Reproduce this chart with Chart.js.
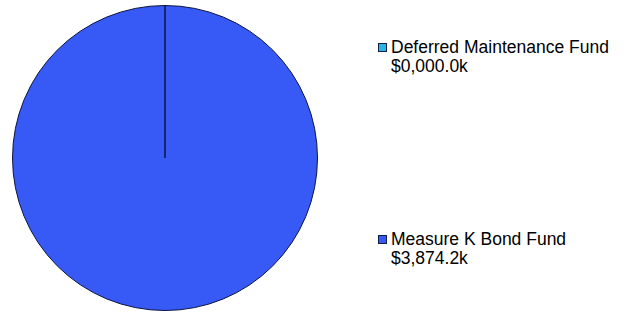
<!DOCTYPE html>
<html>
<head>
<meta charset="utf-8">
<script src="https://cdn.jsdelivr.net/npm/chart.js@4"></script>
<style>
  body { margin: 0; background: #fff; width: 624px; height: 313px; overflow: hidden; position: relative; }
  #wrap { position: absolute; left: 0; top: 0; width: 330px; height: 313px; }
  .item { position: absolute; left: 378px; font-family: "Liberation Sans", Arial, sans-serif; font-size: 17.5px; line-height: 19px; color: #000; }
  .box { position: absolute; left: 0; top: 5px; width: 7px; height: 7px; border: 1px solid #102040; }
  .txt { position: absolute; left: 13px; top: 0; white-space: nowrap; }
</style>
</head>
<body>
<div id="wrap"><canvas id="myChart"></canvas></div>
<div id="legend"></div>
<script>
const labels = ["Deferred Maintenance Fund", "Measure K Bond Fund"];
const amounts = ["$0,000.0k", "$3,874.2k"];
const values = [0, 3874.2];
const colors = ["#27b4e6", "#3759f6"];
const legendTop = [38, 230];

// legend on the right, two lines per item
const legend = document.getElementById('legend');
labels.forEach((lab, i) => {
  const d = document.createElement('div');
  d.className = 'item';
  d.style.top = legendTop[i] + 'px';
  d.innerHTML = `<div class="box" style="background:${colors[i]}"></div>
    <div class="txt">${lab}<br>${amounts[i]}</div>`;
  legend.appendChild(d);
});

const ctx = document.getElementById('myChart').getContext('2d');
new Chart(ctx, {
  type: 'pie',
  data: {
    labels: labels,
    datasets: [{
      data: values,
      backgroundColor: colors,
      borderColor: '#0a1440',
      borderWidth: 1
    }]
  },
  options: {
    responsive: true,
    maintainAspectRatio: false,
    animation: false,
    layout: { padding: { top: 4, bottom: 1, left: 12, right: 12 } },
    plugins: {
      legend: { display: false },
      tooltip: { enabled: false }
    }
  }
});
</script>
</body>
</html>
